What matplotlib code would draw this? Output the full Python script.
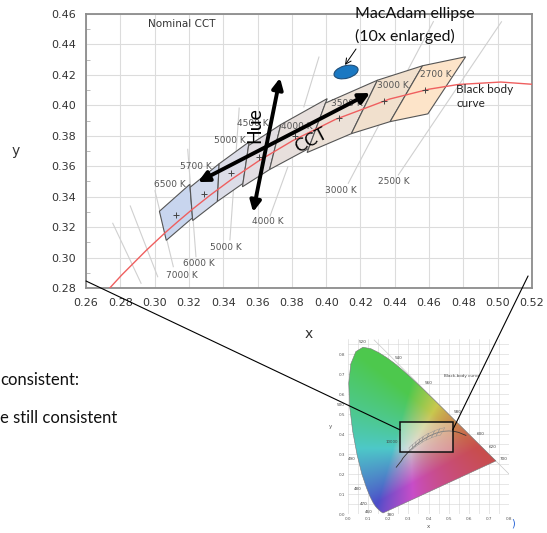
import numpy as np
import matplotlib
matplotlib.use("Agg")
import matplotlib.pyplot as plt
from matplotlib.patches import Polygon, Ellipse, Rectangle, ConnectionPatch

# --- main chart (zoomed part of the CIE 1931 diagram) ---
x_ticks = [0.26, 0.28, 0.30, 0.32, 0.34, 0.36, 0.38, 0.40, 0.42, 0.44, 0.46, 0.48, 0.50, 0.52]
y_ticks = [0.28, 0.30, 0.32, 0.34, 0.36, 0.38, 0.40, 0.42, 0.44, 0.46]

# black body (Planckian) locus, from infinity down to 1500 K
bb_x = [0.2399, 0.2568, 0.2647, 0.2719, 0.2807, 0.2952, 0.3064, 0.3135, 0.3221, 0.3324, 0.3451,
        0.3608, 0.3805, 0.4053, 0.4369, 0.4599, 0.4770, 0.5018, 0.5267, 0.5496, 0.5857]
bb_y = [0.2340, 0.2554, 0.2652, 0.2776, 0.2884, 0.3048, 0.3166, 0.3236, 0.3318, 0.3410, 0.3516,
        0.3636, 0.3768, 0.3907, 0.4041, 0.4106, 0.4137, 0.4153, 0.4133, 0.4081, 0.3931]

# nominal CCT quadrangles
quad_names = ["6500 K", "5700 K", "5000 K", "4500 K", "4000 K", "3500 K", "3000 K", "2700 K"]
quad_cx = [0.3123, 0.3287, 0.3447, 0.3611, 0.3818, 0.4073, 0.4338, 0.4578]
quad_cy = [0.3282, 0.3417, 0.3553, 0.3658, 0.3797, 0.3917, 0.4030, 0.4101]
quad_corners = [
    [(0.3205, 0.3481), (0.3028, 0.3304), (0.3068, 0.3113), (0.3221, 0.3261)],
    [(0.3376, 0.3616), (0.3207, 0.3462), (0.3222, 0.3243), (0.3366, 0.3369)],
    [(0.3551, 0.3760), (0.3376, 0.3616), (0.3366, 0.3369), (0.3515, 0.3487)],
    [(0.3736, 0.3874), (0.3548, 0.3736), (0.3512, 0.3465), (0.3670, 0.3578)],
    [(0.4006, 0.4044), (0.3736, 0.3874), (0.3670, 0.3578), (0.3898, 0.3716)],
    [(0.4299, 0.4165), (0.3996, 0.4015), (0.3889, 0.3690), (0.4147, 0.3814)],
    [(0.4562, 0.4260), (0.4299, 0.4165), (0.4147, 0.3814), (0.4373, 0.3893)],
    [(0.4813, 0.4319), (0.4562, 0.4260), (0.4373, 0.3893), (0.4593, 0.3944)],
]
quad_colors = ["#c8d5ee", "#d3dbed", "#dcdde8", "#e2dde2", "#e7dfdc", "#ece1d7", "#f1e0cd", "#fde4c9"]

# iso-CCT lines and their labels
iso_labels = ["", "7000 K", "", "6000 K", "5000 K", "4000 K", "", "3000 K", "2500 K"]
iso_x0 = [0.2756, 0.2858, 0.3002, 0.3193, 0.3493, 0.3777, 0.3958, 0.4625, 0.5022]
iso_y0 = [0.3225, 0.3339, 0.3439, 0.3711, 0.3982, 0.3597, 0.4317, 0.4550, 0.4549]
iso_x1 = [0.2921, 0.3018, 0.3109, 0.3241, 0.3439, 0.3673, 0.3870, 0.4129, 0.4421]
iso_y1 = [0.2831, 0.2874, 0.2940, 0.3006, 0.3116, 0.3273, 0.3990, 0.3488, 0.3543]

# arrows and MacAdam ellipse
hue_from, hue_to = (0.3574, 0.3299), (0.3731, 0.4180)
cct_from, cct_to = (0.3253, 0.3496), (0.4256, 0.4081)
ellipse_center = (0.4116, 0.4219)
ellipse_w, ellipse_h, ellipse_angle = 0.0145, 0.0082, 18

# --- inset: full chromaticity diagram ---
locus_wl = [380, 440, 450, 460, 465, 470, 475, 480, 485, 490, 495, 500, 505, 510, 515, 520, 525,
            530, 535, 540, 545, 550, 555, 560, 565, 570, 575, 580, 585, 590, 595, 600, 610, 620,
            630, 640, 650, 660, 680, 700]
locus_x = [0.1741, 0.1644, 0.1566, 0.1440, 0.1355, 0.1241, 0.1096, 0.0913, 0.0687, 0.0454, 0.0235,
           0.0082, 0.0039, 0.0139, 0.0389, 0.0743, 0.1142, 0.1547, 0.1929, 0.2296, 0.2658, 0.3016,
           0.3373, 0.3731, 0.4087, 0.4441, 0.4788, 0.5125, 0.5448, 0.5752, 0.6029, 0.6270, 0.6658,
           0.6915, 0.7079, 0.7190, 0.7260, 0.7300, 0.7334, 0.7347]
locus_y = [0.0050, 0.0109, 0.0177, 0.0297, 0.0399, 0.0578, 0.0868, 0.1327, 0.2007, 0.2950, 0.4127,
           0.5384, 0.6548, 0.7502, 0.8120, 0.8338, 0.8262, 0.8059, 0.7816, 0.7543, 0.7243, 0.6923,
           0.6589, 0.6245, 0.5896, 0.5547, 0.5202, 0.4866, 0.4544, 0.4242, 0.3965, 0.3725, 0.3340,
           0.3083, 0.2920, 0.2809, 0.2740, 0.2700, 0.2666, 0.2653]
wl_labels = ["520", "540", "560", "580", "600", "620", "700", "500", "490", "480", "470", "460", "380"]
inset_ticks = [0.0, 0.1, 0.2, 0.3, 0.4, 0.5, 0.6, 0.7, 0.8]
diag_x = [0.13, 0.80]
diag_y = [1 - v for v in diag_x]
zoom_box = (0.26, 0.31, 0.52, 0.46)

W, H = 547, 533
fig = plt.figure(figsize=(W / 100, H / 100), dpi=100, facecolor="white")

ax = fig.add_axes([86 / W, 245 / H, 446 / W, 274 / H])
ax.set_xlim(0.26, 0.52)
ax.set_ylim(0.28, 0.46)
ax.set_xticks(x_ticks)
ax.set_yticks(y_ticks)
ax.set_xticklabels(["%.2f" % v for v in x_ticks])
ax.set_yticklabels(["%.2f" % v for v in y_ticks])
ax.set_yticks(np.arange(0.28, 0.461, 0.01), minor=True)
ax.tick_params(which="major", length=0, labelsize=8, labelcolor="#333333", pad=7)
ax.tick_params(which="minor", axis="y", direction="in", length=3, color="#b0b0b0")
ax.tick_params(which="minor", axis="x", length=0)
ax.grid(True, which="major", color="#dcdcdc", lw=0.8, zorder=0)
ax.set_axisbelow(True)
for s in ax.spines.values():
    s.set_color("#8c8c8c")
    s.set_linewidth(1.3)
ax.set_xlabel("x", fontsize=10, color="#333333", labelpad=14)
ax.set_ylabel("y", fontsize=10, color="#333333", rotation=0, labelpad=26, va="center")

# iso-CCT lines
for i in range(len(iso_x0)):
    ax.plot([iso_x0[i], iso_x1[i]], [iso_y0[i], iso_y1[i]], color="#d0d0d0", lw=0.8, zorder=1)
iso_pos = [None, (0.316, 0.2882), None, (0.3256, 0.2964), (0.3416, 0.3069),
           (0.3661, 0.3237), None, (0.4087, 0.3440), (0.4396, 0.3500)]
for lab, pos in zip(iso_labels, iso_pos):
    if lab:
        ax.text(pos[0], pos[1], lab, fontsize=6.5, color="#555555", ha="center", va="center", zorder=4)

# quadrangles
for corners, col in zip(quad_corners, quad_colors):
    ax.add_patch(Polygon(corners, closed=True, facecolor=col, edgecolor="#555555", lw=0.8, zorder=2))
ax.plot(bb_x, bb_y, color="#ef5f5f", lw=1.0, zorder=3)
ax.plot(quad_cx, quad_cy, "+", color="#444444", ms=4, mew=0.7, zorder=3.5)
qlab_pos = [(0.309, 0.348), (0.324, 0.360), (0.344, 0.377), (0.357, 0.388),
            (0.383, 0.386), (0.412, 0.401), (0.439, 0.413), (0.464, 0.420)]
for lab, pos in zip(quad_names, qlab_pos):
    ax.text(pos[0], pos[1], lab, fontsize=6.5, color="#555555", ha="center", va="center", zorder=4)

ax.text(0.316, 0.4534, "Nominal CCT", fontsize=7.5, color="#333333", ha="center", va="center")
ax.text(0.4757, 0.4058, "Black body\ncurve", fontsize=8.5, family="Lato", color="#222222",
        ha="left", va="center", linespacing=1.35)

# MacAdam ellipse
ax.add_patch(Ellipse(ellipse_center, ellipse_w, ellipse_h, angle=ellipse_angle,
                     facecolor="#1a78c2", edgecolor="#1f4e79", lw=0.8, zorder=5))
ax.text(0.4168, 0.4600, "MacAdam ellipse", fontsize=11.5, family="Lato", color="#111111",
        ha="left", va="center", zorder=6, clip_on=False)
ax.text(0.4168, 0.4455, "(10x enlarged)", fontsize=11.5, family="Lato", color="#111111",
        ha="left", va="center", zorder=6)
ax.annotate("", xy=(0.4110, 0.4265), xytext=(0.4174, 0.4370),
            arrowprops=dict(arrowstyle="->", lw=0.7, color="black", shrinkA=0, shrinkB=0), zorder=6)

# Hue / CCT arrows
for a, b in [(hue_from, hue_to), (cct_from, cct_to)]:
    ax.annotate("", xy=b, xytext=a,
                arrowprops=dict(arrowstyle="<|-|>", lw=2.8, color="black", mutation_scale=16,
                                shrinkA=0, shrinkB=0), zorder=7)
ax.text(0.3585, 0.3871, "Hue", fontsize=14, family="Lato", rotation=90, ha="center", va="center", zorder=6)
ax.text(0.3912, 0.3772, "CCT", fontsize=13, family="Lato", rotation=28, ha="center", va="center", zorder=6)

# --- inset ---
axin = fig.add_axes([348 / W, 19 / H, 161 / W, 175 / H])
axin.set_xlim(0, 0.8)
axin.set_ylim(0, 0.875)
axin.set_xticks(inset_ticks)
axin.set_yticks(inset_ticks)
axin.set_xticklabels(["%.1f" % v for v in inset_ticks])
axin.set_yticklabels(["%.1f" % v for v in inset_ticks])
axin.set_xticks(np.arange(0.05, 0.8, 0.1), minor=True)
axin.set_yticks(np.arange(0.05, 0.86, 0.1), minor=True)
axin.tick_params(which="both", length=0, labelsize=3, labelcolor="#555555", pad=2)
axin.grid(True, which="both", color="#d4d4d4", lw=0.4)
axin.set_axisbelow(True)
for s in axin.spines.values():
    s.set_visible(False)
axin.set_xlabel("x", fontsize=4, color="#555555", labelpad=2)
axin.set_ylabel("y", fontsize=4, color="#555555", rotation=0, labelpad=6, va="center")

# colour fill of the gamut (xyY -> sRGB, softened to look like the printed figure)
gx, gy = np.meshgrid(np.linspace(0.001, 0.8, 320), np.linspace(0.001, 0.875, 350))
xyz = np.stack([gx / gy, np.ones_like(gx), (1 - gx - gy) / gy])
M = np.array([[3.2406, -1.5372, -0.4986], [-0.9689, 1.8758, 0.0415], [0.0557, -0.2040, 1.0570]])
rgb = np.clip(np.einsum("ij,jab->abi", M, xyz), 0, None)
rgb = rgb / np.maximum(rgb.max(axis=2, keepdims=True), 1e-6)
rgb = 0.72 * rgb + 0.10
rgb = np.clip(rgb ** (1 / 2.2) * 0.86, 0, 1)
locus = Polygon(list(zip(locus_x, locus_y)), closed=True, facecolor="none", edgecolor="#777777", lw=0.4, zorder=3)
axin.add_patch(locus)
im = axin.imshow(rgb, extent=[0.001, 0.8, 0.001, 0.875], origin="lower", aspect="auto",
                 interpolation="bilinear", zorder=2)
im.set_clip_path(locus)
axin.plot(diag_x, diag_y, color="#c8c8c8", lw=0.5, zorder=1.5)
axin.plot(bb_x, bb_y, color="#333333", lw=0.6, zorder=4)
for corners in quad_corners:
    axin.add_patch(Polygon(corners, closed=True, facecolor="none", edgecolor="#555555", lw=0.3, zorder=4))
wl_pos = [(0.07, 0.86), (0.25, 0.78), (0.40, 0.655), (0.545, 0.51), (0.66, 0.40), (0.72, 0.335),
          (0.775, 0.275), (-0.035, 0.545), (0.02, 0.275), (0.05, 0.125), (0.08, 0.05), (0.105, 0.012),
          (0.21, -0.005)]
for lab, pos in zip(wl_labels, wl_pos):
    axin.text(pos[0], pos[1], lab, fontsize=3, color="#444444", ha="center", va="center", zorder=5,
              clip_on=False)
axin.text(0.565, 0.69, "Black-body curve", fontsize=3, color="#444444", ha="center", va="center", zorder=5)
axin.text(0.22, 0.36, "10000", fontsize=2.8, color="#444444", ha="center", va="center", zorder=5)
bx0, by0, bx1, by1 = zoom_box
axin.add_patch(Rectangle((bx0, by0), bx1 - bx0, by1 - by0, facecolor="white", alpha=0.35,
                         edgecolor="none", zorder=5))
axin.add_patch(Rectangle((bx0, by0), bx1 - bx0, by1 - by0, facecolor="none",
                         edgecolor="#111111", lw=1.1, zorder=6))
fig.text(513 / W, 1 - 524 / H, ")", fontsize=7, color="#1f5fd6", ha="center", va="center")

# connector lines from the main chart to the zoom box
for pa, pb in [((0.26, 0.2846), (bx0, 0.42)), ((0.5177, 0.2879), (bx1, 0.42))]:
    con = ConnectionPatch(xyA=pa, coordsA=ax.transData, xyB=pb, coordsB=axin.transData,
                          color="black", lw=0.8, zorder=10)
    fig.add_artist(con)

# slide text cut at the left edge
fig.text(0.0, 1 - 385 / H, "consistent:", fontsize=12, family="Lato", color="#111111", ha="left", va="baseline")
fig.text(0.0, 1 - 423 / H, "e still consistent", fontsize=12, family="Lato", color="#111111", ha="left", va="baseline")

fig.savefig("out.png", dpi=100, facecolor="white")
